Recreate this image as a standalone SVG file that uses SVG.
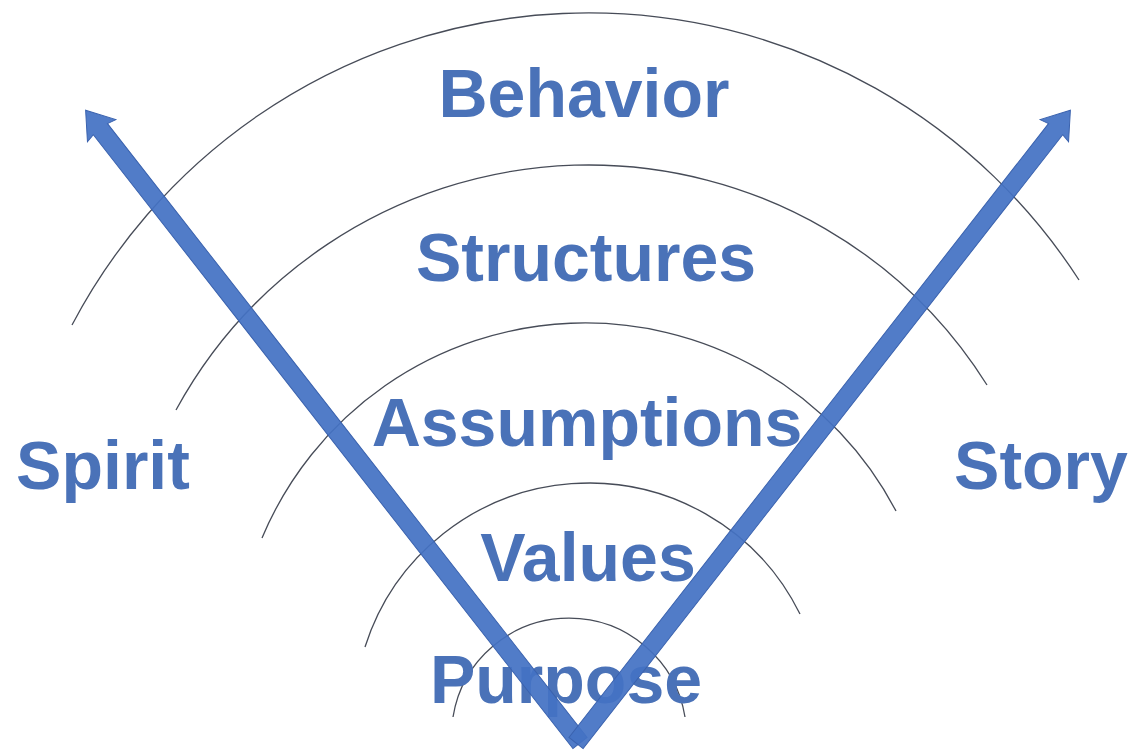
<svg xmlns="http://www.w3.org/2000/svg" width="1135" height="753" viewBox="0 0 1135 753">
<style>
.bg{fill:#ffffff}
.arc{fill:none;stroke:#474c58;stroke-width:1.3}
.lbl{font-family:"Liberation Sans",Arial,sans-serif;font-weight:bold;font-size:68px;fill:#4a72b8;text-anchor:middle}
.arrow{fill:#4472c4;fill-opacity:0.93;stroke:#3a62ae;stroke-width:1}
</style>
<defs>
<path id="vArrow" d="M-9,0 L-9,-779 L-18,-777 L0,-803 L18,-777 L9,-779 L9,0 Z"/>
</defs>
<rect class="bg" x="0" y="0" width="1135" height="753"/>
<g id="arcs">
<path id="arc-behavior" class="arc" d="M72,325 A583.7,583.7 0 0 1 1079,280"/>
<path id="arc-structures" class="arc" d="M176,410 A470.3,470.3 0 0 1 987,385"/>
<path id="arc-assumptions" class="arc" d="M262,538 A350.6,350.6 0 0 1 896,511"/>
<path id="arc-values" class="arc" d="M365,647 A235.2,235.2 0 0 1 800,614"/>
<path id="arc-purpose" class="arc" d="M453,717 A117.5,117.5 0 0 1 685,717"/>
</g>
<g id="behavior"><text class="lbl" x="584" y="117">Behavior</text></g>
<g id="structures"><text class="lbl" x="586" y="281">Structures</text></g>
<g id="assumptions"><text class="lbl" x="587" y="446">Assumptions</text></g>
<g id="values"><text class="lbl" x="588" y="581">Values</text></g>
<g id="purpose"><text class="lbl" x="566" y="703">Purpose</text></g>
<g id="spirit"><text class="lbl" x="103" y="489">Spirit</text></g>
<g id="story"><text class="lbl" x="1041" y="489">Story</text></g>
<g id="connectors">
<use href="#vArrow" class="arrow" transform="translate(580,743) rotate(-38)"/>
<use href="#vArrow" class="arrow" transform="translate(576,743) rotate(38)"/>
</g>
</svg>
